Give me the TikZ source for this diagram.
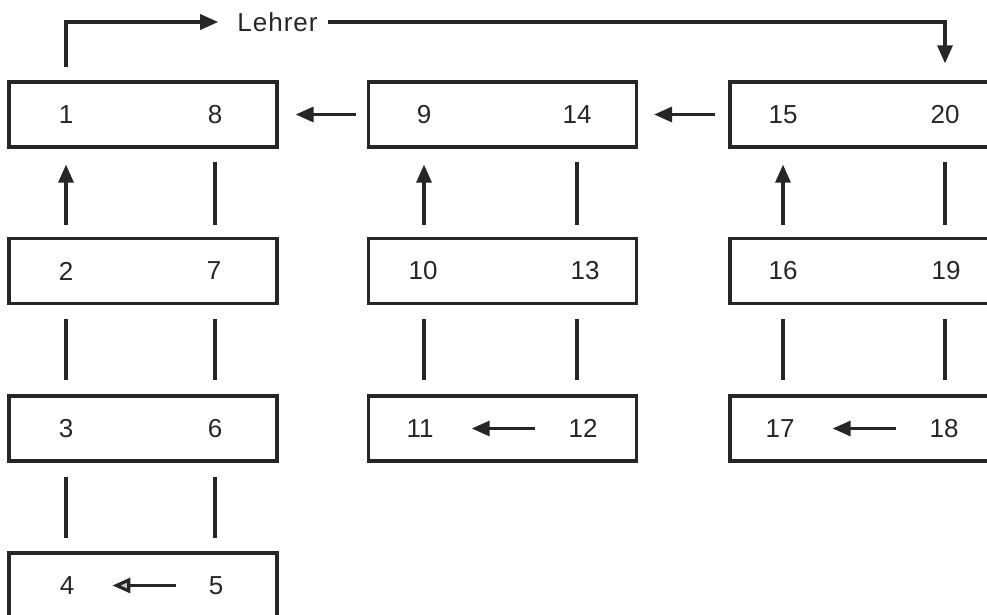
\documentclass[tikz,border=0pt]{standalone}
\usepackage{fontspec}
\setmainfont{Liberation Sans}
\usetikzlibrary{arrows.meta}
\definecolor{ink}{HTML}{262626}
\tikzset{
  box/.style={draw=ink, line width=3.2pt, rectangle, minimum width=268pt, minimum height=65pt, inner sep=0pt},
  num/.style={inner sep=0pt, text=ink, font=\fontsize{26}{30}\selectfont},
  conn/.style={draw=ink, line width=3.2pt},
  arr/.style={conn, -{Triangle[length=18pt,width=15pt]}},
  openarr/.style={conn, -{Triangle[length=18pt,width=15pt,open,fill=ink!25]}}
}
\begin{document}
\begin{tikzpicture}[x=1pt,y=-1pt]
\useasboundingbox (0,0) rectangle (987,615);
\clip (0,0) rectangle (987,615);
% boxes
\node[box] (L1) at (143,114.5) {};
\node[box] (L2) at (143,271) {};
\node[box] (L3) at (143,428.5) {};
\node[box] (L4) at (143,585.5) {};
\node[box] (M1) at (502.5,114.5) {};
\node[box] (M2) at (502.5,271) {};
\node[box] (M3) at (502.5,428.5) {};
\node[box] (R1) at (864,114.5) {};
\node[box] (R2) at (864,271) {};
\node[box] (R3) at (864,428.5) {};
% numbers
\node[num] (n1) at (66,114.5) {1};
\node[num] (n8) at (215,114.5) {8};
\node[num] (n2) at (66,271) {2};
\node[num] (n7) at (214,271) {7};
\node[num] (n3) at (66,428.5) {3};
\node[num] (n6) at (215,428.5) {6};
\node[num] (n4) at (67,585.5) {4};
\node[num] (n5) at (216,585.5) {5};
\node[num] (n9) at (424,114.5) {9};
\node[num] (n14) at (577,114.5) {14};
\node[num] (n10) at (423,271) {10};
\node[num] (n13) at (585,271) {13};
\node[num] (n11) at (420,428.5) {11};
\node[num] (n12) at (583,428.5) {12};
\node[num] (n15) at (783,114.5) {15};
\node[num] (n20) at (945,114.5) {20};
\node[num] (n16) at (783,271) {16};
\node[num] (n19) at (946,271) {19};
\node[num] (n17) at (780,428.5) {17};
\node[num] (n18) at (944,428.5) {18};
\node[num] (lehrer) at (277.5,22) {L\kern1pt e\kern1pt h\kern1pt r\kern1pt e\kern1pt r};
% Lehrer connectors
\draw[arr] ([yshift=13pt]L1.north -| n1) |- ([xshift=-19pt]lehrer.west);
\draw[arr] ([xshift=10pt]lehrer.east) -| ([yshift=17pt]R1.north -| n20);
% horizontal arrows between boxes
\draw[arr] ([xshift=-11pt]M1.west) -- ([xshift=17pt]L1.east);
\draw[arr] ([xshift=-13pt]R1.west) -- ([xshift=16pt]M1.east);
% left column
\draw[arr] ([yshift=12pt]L2.north -| n1) -- ([yshift=-16pt]L1.south -| n1);
\draw[conn] ([yshift=-13pt]L1.south -| n8) -- ([yshift=12pt]L2.north -| n8);
\draw[conn] ([yshift=-14pt]L2.south -| n1) -- ([yshift=14pt]L3.north -| n1);
\draw[conn] ([yshift=-14pt]L2.south -| n8) -- ([yshift=14pt]L3.north -| n8);
\draw[conn] ([yshift=-14pt]L3.south -| n1) -- ([yshift=13pt]L4.north -| n1);
\draw[conn] ([yshift=-14pt]L3.south -| n8) -- ([yshift=13pt]L4.north -| n8);
\draw[openarr] ([xshift=-33pt]n5.west) -- ([xshift=38pt]n4.east);
% middle column
\draw[arr] ([yshift=12pt]M2.north -| n9) -- ([yshift=-16pt]M1.south -| n9);
\draw[conn] ([yshift=-13pt]M1.south -| n14) -- ([yshift=12pt]M2.north -| n14);
\draw[conn] ([yshift=-14pt]M2.south -| n9) -- ([yshift=14pt]M3.north -| n9);
\draw[conn] ([yshift=-14pt]M2.south -| n14) -- ([yshift=14pt]M3.north -| n14);
\draw[arr] ([xshift=-33pt]n12.west) -- ([xshift=38pt]n11.east);
% right column
\draw[arr] ([yshift=12pt]R2.north -| n15) -- ([yshift=-16pt]R1.south -| n15);
\draw[conn] ([yshift=-13pt]R1.south -| n20) -- ([yshift=12pt]R2.north -| n20);
\draw[conn] ([yshift=-14pt]R2.south -| n15) -- ([yshift=14pt]R3.north -| n15);
\draw[conn] ([yshift=-14pt]R2.south -| n20) -- ([yshift=14pt]R3.north -| n20);
\draw[arr] ([xshift=-33pt]n18.west) -- ([xshift=38pt]n17.east);
\end{tikzpicture}
\end{document}
